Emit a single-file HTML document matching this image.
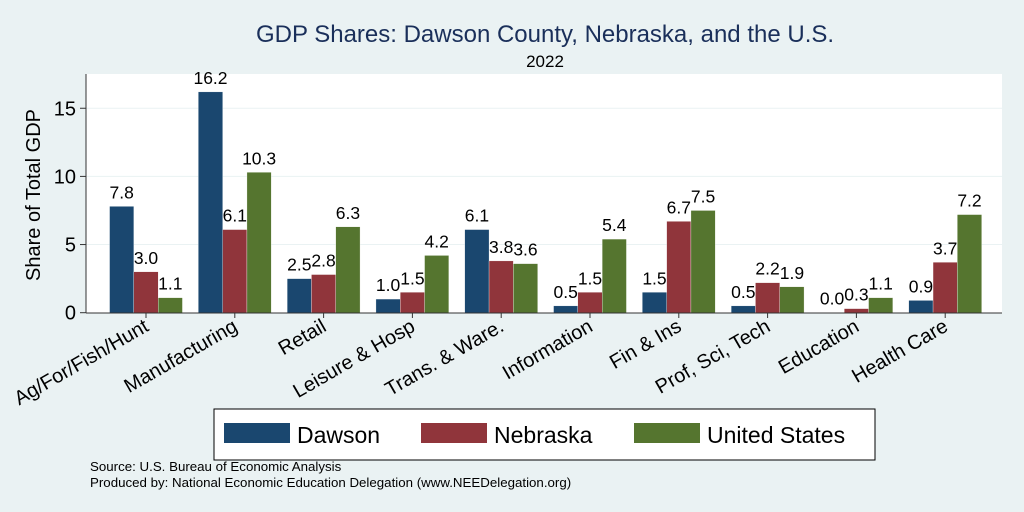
<!DOCTYPE html>
<html><head><meta charset="utf-8"><style>
body{margin:0;background:#eaf2f3;}
svg{display:block;font-family:"Liberation Sans",Arial,sans-serif;}
</style></head><body>
<svg id="c" width="1024" height="512" viewBox="0 0 1024 512">
<rect width="1024" height="512" fill="#eaf2f3"/>
<text x="545" y="42" font-size="24" fill="#1a2f5a" text-anchor="middle">GDP Shares: Dawson County, Nebraska, and the U.S.</text>
<text x="545" y="67" font-size="17" fill="#000" text-anchor="middle">2022</text>
<rect x="86" y="74" width="916" height="239" fill="#fff"/>
<g id="grid"></g>
<g id="bars"></g>
<line x1="86" y1="74" x2="86" y2="313" stroke="#333"/>
<line x1="86" y1="313" x2="1002" y2="313" stroke="#333"/>
<text transform="translate(40,195) rotate(-90)" font-size="20" text-anchor="middle">Share of Total GDP</text>
<rect x="214" y="409" width="661" height="51" fill="#fff" stroke="#000"/>
<g id="legend"></g>
<text x="90" y="471" font-size="13.3">Source: U.S. Bureau of Economic Analysis</text>
<text x="90" y="487" font-size="13.3">Produced by: National Economic Education Delegation (www.NEEDelegation.org)</text>
</svg>
<script>
const categories=["Ag/For/Fish/Hunt","Manufacturing","Retail","Leisure & Hosp","Trans. & Ware.","Information","Fin & Ins","Prof, Sci, Tech","Education","Health Care"];
const dawson=[7.8,16.2,2.5,1.0,6.1,0.5,1.5,0.5,0.0,0.9];
const nebraska=[3.0,6.1,2.8,1.5,3.8,1.5,6.7,2.2,0.3,3.7];
const us=[1.1,10.3,6.3,4.2,3.6,5.4,7.5,1.9,1.1,7.2];
const yTicks=[0,5,10,15];
const seriesNames=["Dawson","Nebraska","United States"];
const colors=["#1a476f","#90353b","#55752f"];
const NS="http://www.w3.org/2000/svg";
const y=v=>312.7-v*13.63;
const xc=i=>146+i*88.8;
const bw=24.3;
function mk(t,a,p){const e=document.createElementNS(NS,t);for(const k in a)e.setAttribute(k,a[k]);p.appendChild(e);return e;}
const grid=document.getElementById('grid'),bars=document.getElementById('bars'),svg=document.getElementById('c'),leg=document.getElementById('legend');
yTicks.forEach(t=>{
 if(t>0){const l=mk('line',{x1:86,x2:1002,y1:y(t),y2:y(t),stroke:'#eaf2f3'},grid);
 
 }
 const tk=mk('line',{x1:80,x2:86,y1:y(t),y2:y(t),stroke:'#333'},grid);
 
 
 const tx=mk('text',{x:76,y:y(t)+7,'font-size':20,'text-anchor':'end'},grid);tx.textContent=t;
 
 
});
const series=[dawson,nebraska,us];
categories.forEach((c,i)=>{
 series.forEach((s,j)=>{
  const x0=xc(i)+(j-1.5)*bw;
  const r=mk('rect',{x:x0,y:y(s[i]),width:bw,height:Math.max(0,312.7-y(s[i])),fill:colors[j],stroke:'#fff','stroke-width':0.3},bars);
  
  
  const t=mk('text',{x:x0+bw/2,y:y(s[i])-8,'font-size':17.5,'text-anchor':'middle'},bars);t.textContent=s[i].toFixed(1);
  
  
 });
 const tk=mk('line',{x1:xc(i),x2:xc(i),y1:313,y2:318,stroke:'#333'},bars);
 
 
 const lb=mk('text',{transform:`translate(${xc(i)+4},${330}) rotate(-30)`,'font-size':20,'text-anchor':'end'},bars);lb.textContent=c;
 
 
});
const lx=[224,421,634];
seriesNames.forEach((n,j)=>{
 const r=mk('rect',{x:lx[j],y:423,width:66,height:20,fill:colors[j]},leg);
 
 
 const t=mk('text',{x:lx[j]+73,y:443,'font-size':23},leg);t.textContent=n;
 
 
});
</script>
</body></html>
